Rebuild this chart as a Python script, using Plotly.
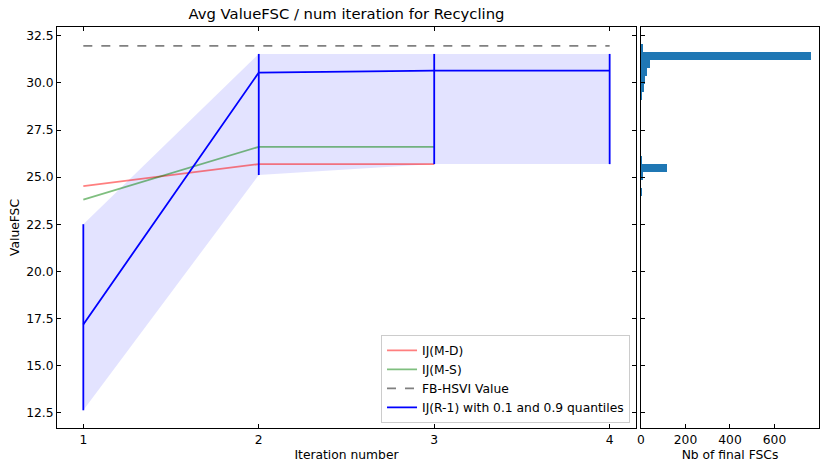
import plotly.graph_objects as go

# iteration numbers
iterations = [1, 2, 3, 4]

# IJ(M-D) and IJ(M-S) only go up to iteration 3
md_iter = [1, 2, 3]
md_value = [24.52, 25.69, 25.69]
ms_iter = [1, 2, 3]
ms_value = [23.81, 26.61, 26.61]

# FB-HSVI reference value
fb_hsvi = 31.97

# IJ(R-1) mean and quantiles
r1_mean = [17.18, 30.55, 30.65, 30.65]
r1_q10 = [12.62, 25.11, 25.69, 25.69]
r1_q90 = [22.50, 31.54, 31.54, 31.54]

# histogram of final FSC values
bin_lo = 23.98
bin_w = 0.427
bin_counts = [3, 0, 7, 115, 2, 0, 0, 0, 0, 0, 0, 0, 3, 12, 17, 27, 39, 763, 5]
bin_centers = [bin_lo + bin_w * (i + 0.5) for i in range(len(bin_counts))]

font = "DejaVu Sans"
fs = 12.3
y_range = [11.68, 32.97]
y_ticks = [12.5 + 2.5 * i for i in range(9)]

W, H = 831, 471

fig = go.Figure()

# shaded quantile band
fig.add_trace(go.Scatter(x=iterations, y=r1_q10, mode="lines", line=dict(width=0),
                         showlegend=False, hoverinfo="skip"))
fig.add_trace(go.Scatter(x=iterations, y=r1_q90, mode="lines", line=dict(width=0),
                         fill="tonexty", fillcolor="rgba(0,0,255,0.11)",
                         showlegend=False, hoverinfo="skip"))

fig.add_trace(go.Scatter(x=md_iter, y=md_value, mode="lines", name="IJ(M-D)",
                         line=dict(color="rgba(255,0,0,0.5)", width=1.8)))
fig.add_trace(go.Scatter(x=ms_iter, y=ms_value, mode="lines", name="IJ(M-S)",
                         line=dict(color="rgba(0,128,0,0.5)", width=1.8)))
fig.add_trace(go.Scatter(x=[iterations[0], iterations[-1]], y=[fb_hsvi, fb_hsvi], mode="lines",
                         name="FB-HSVI Value", line=dict(color="gray", width=1.8, dash="dash")))

# blue mean with asymmetric error bars (quantiles)
err_up = [u - m for u, m in zip(r1_q90, r1_mean)]
err_down = [m - l for m, l in zip(r1_mean, r1_q10)]
fig.add_trace(go.Scatter(x=iterations, y=r1_mean, mode="lines",
                         name="IJ(R-1) with 0.1 and 0.9 quantiles",
                         line=dict(color="blue", width=1.8),
                         error_y=dict(type="data", symmetric=False, array=err_up,
                                      arrayminus=err_down, color="blue", thickness=1.8, width=0)))

# histogram on the right
fig.add_trace(go.Bar(x=bin_counts, y=bin_centers, orientation="h", width=bin_w,
                     marker=dict(color="#1f77b4", line=dict(width=0)),
                     showlegend=False, xaxis="x2", yaxis="y2"))

axis_common = dict(showline=True, linecolor="black", linewidth=1, ticks="inside",
                   ticklen=4, tickcolor="black", showgrid=False, zeroline=False,
                   automargin=False, tickfont=dict(family=font, size=fs, color="black"))

fig.update_layout(
    width=W, height=H,
    margin=dict(l=57, r=12, t=27, b=43),
    paper_bgcolor="white", plot_bgcolor="white",
    font=dict(family=font, size=fs, color="black"),
    title=dict(text="Avg ValueFSC / num iteration for Recycling", x=(57 + 636) / 2 / W,
               xanchor="center", y=1 - 14 / H, yanchor="middle",
               font=dict(family=font, size=14.8, color="black")),
    xaxis=dict(domain=[0, 0.7598], range=[0.85, 4.15], tickvals=iterations, mirror="allticks",
               title=dict(text="Iteration number", standoff=4, font=dict(size=fs)), **axis_common),
    yaxis=dict(range=y_range, tickvals=y_ticks, tickformat=".1f",
               mirror="allticks", title=dict(text="ValueFSC", standoff=3, font=dict(size=fs)),
               **axis_common),
    xaxis2=dict(domain=[0.7664, 1], range=[0, 800], tickvals=[0, 200, 400, 600], anchor="y2",
                mirror=True, title=dict(text="Nb of final FSCs", standoff=4, font=dict(size=fs)),
                **axis_common),
    yaxis2=dict(range=y_range, tickvals=y_ticks, anchor="x2",
                showticklabels=False, mirror=True, **axis_common),
    legend=dict(x=0.752, y=0.013, xanchor="right", yanchor="bottom", traceorder="normal",
                bgcolor="rgba(255,255,255,0.8)", bordercolor="#cccccc", borderwidth=1,
                font=dict(family=font, size=fs, color="black"), tracegroupgap=0,
                itemwidth=30),
    bargap=0,
)

# drop the page's default body margin so the figure fills the window
fig.write_html("out.html", config={"displayModeBar": False},
               post_script="document.body.style.margin='0px';")
